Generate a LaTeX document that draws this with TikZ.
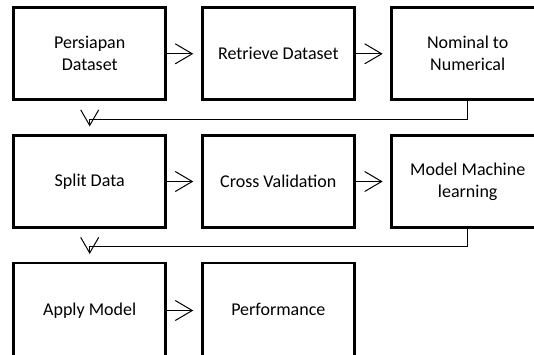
\documentclass[tikz,border=0pt]{standalone}
\usepackage{fontspec}
\setmainfont{Carlito}
\usetikzlibrary{arrows.meta}
\begin{document}
\begin{tikzpicture}[x=1pt,y=-1pt,
  stepbox/.style={draw, line width=2.7pt, minimum width=152pt, minimum height=92pt,
    inner sep=0pt, align=center, font=\fontsize{18}{22}\selectfont},
  conn/.style={line width=1pt, shorten >=7.7pt,
    -{Straight Barb[length=17pt,width=20pt,line width=1pt]}},
  turnconn/.style={line width=1pt, shorten >=7.7pt,
    -{Straight Barb[length=15.6pt,width=18pt,line width=1pt]}}]
  \path[use as bounding box, clip] (0,0) rectangle (534,354);

  % process steps, three per row
  \node[stepbox] (n1) at (89.7,53.8)  {Persiapan\\Dataset};
  \node[stepbox] (n2) at (278.3,53.8) {Retrieve Dataset};
  \node[stepbox] (n3) at (467.7,53.8) {Nominal to\\Numerical};
  \node[stepbox] (n4) at (89.7,181.5)  {Split Data};
  \node[stepbox] (n5) at (278.3,181.5) {Cross Validation};
  \node[stepbox] (n6) at (467.7,181.5) {Model Machine\\learning};
  \node[stepbox, minimum height=95pt] (n7) at (89.7,310.5)  {\raisebox{1.5pt}{Apply Model}};
  \node[stepbox, minimum height=95pt] (n8) at (278.3,310.5) {\raisebox{1.5pt}{Performance}};

  % flow within each row
  \draw[conn] (n1) -- (n2);
  \draw[conn] (n2) -- (n3);
  \draw[conn] (n4) -- (n5);
  \draw[conn] (n5) -- (n6);
  \draw[conn] (n7) -- (n8);

  % wrap from the end of a row to the start of the next
  \draw[turnconn] (n3.south) -- ++(0,18) -| (n4.north);
  \draw[turnconn] (n6.south) -- ++(0,18) -| (n7.north);
\end{tikzpicture}
\end{document}
